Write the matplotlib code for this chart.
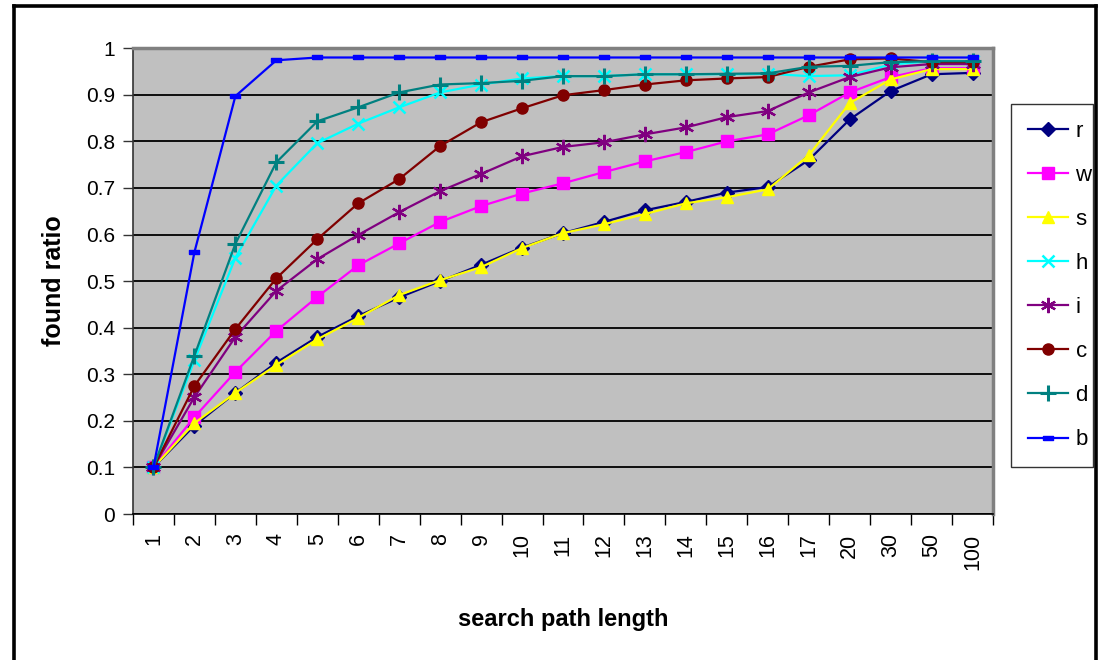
import matplotlib
matplotlib.use("Agg")
import matplotlib.pyplot as plt
from matplotlib.lines import Line2D
import numpy as np

plt.rcParams["font.family"] = ["Liberation Sans", "DejaVu Sans"]

categories = ["1", "2", "3", "4", "5", "6", "7", "8", "9", "10", "11", "12",
              "13", "14", "15", "16", "17", "20", "30", "50", "100"]

r = [0.10, 0.19, 0.26, 0.325, 0.38, 0.425, 0.465, 0.50, 0.535, 0.572, 0.603,
     0.627, 0.652, 0.67, 0.69, 0.702, 0.76, 0.847, 0.908, 0.944, 0.947]
w = [0.10, 0.208, 0.305, 0.393, 0.466, 0.534, 0.581, 0.627, 0.661, 0.688, 0.71,
     0.734, 0.757, 0.777, 0.80, 0.815, 0.856, 0.905, 0.938, 0.957, 0.957]
s = [0.10, 0.195, 0.26, 0.32, 0.375, 0.421, 0.47, 0.502, 0.53, 0.571, 0.603,
     0.622, 0.644, 0.667, 0.68, 0.697, 0.77, 0.882, 0.933, 0.955, 0.955]
h = [0.10, 0.33, 0.55, 0.705, 0.796, 0.838, 0.873, 0.905, 0.922, 0.935, 0.94,
     0.94, 0.944, 0.944, 0.944, 0.945, 0.94, 0.942, 0.965, 0.972, 0.972]
i = [0.10, 0.251, 0.38, 0.479, 0.547, 0.599, 0.648, 0.693, 0.73, 0.768, 0.788,
     0.798, 0.815, 0.83, 0.852, 0.865, 0.905, 0.938, 0.959, 0.966, 0.966]
c = [0.10, 0.275, 0.397, 0.506, 0.59, 0.667, 0.719, 0.79, 0.841, 0.871, 0.899,
     0.91, 0.922, 0.931, 0.935, 0.938, 0.96, 0.976, 0.978, 0.97, 0.97]
d = [0.10, 0.34, 0.58, 0.755, 0.843, 0.873, 0.905, 0.922, 0.925, 0.93, 0.94,
     0.94, 0.944, 0.944, 0.945, 0.946, 0.96, 0.962, 0.97, 0.972, 0.972]
b = [0.10, 0.562, 0.897, 0.974, 0.98, 0.98, 0.98, 0.98, 0.98, 0.98, 0.98,
     0.98, 0.98, 0.98, 0.98, 0.98, 0.98, 0.98, 0.98, 0.98, 0.98]

yticks = [0, 0.1, 0.2, 0.3, 0.4, 0.5, 0.6, 0.7, 0.8, 0.9, 1]
ytick_labels = ["0", "0.1", "0.2", "0.3", "0.4", "0.5", "0.6", "0.7", "0.8", "0.9", "1"]

dash = [(-1.6, -0.6), (1.6, -0.6), (1.6, 0.6), (-1.6, 0.6), (-1.6, -0.6)]
asterisk = (6, 2, 0)

series = [
    ("r", r, "#000080", "D", 7, 1.0),
    ("w", w, "#FF00FF", "s", 8, 1.0),
    ("s", s, "#FFFF00", "^", 9, 1.0),
    ("h", h, "#00FFFF", "x", 9, 1.8),
    ("i", i, "#800080", asterisk, 11, 1.6),
    ("c", c, "#800000", "o", 8, 1.0),
    ("d", d, "#008080", "+", 12, 2.2),
    ("b", b, "#0000FF", dash, 7, 1.0),
]

fig = plt.figure(figsize=(10.99, 6.60), dpi=100)
ax = fig.add_axes([0.121, 0.2212, 0.7826, 0.7058])
ax.set_facecolor("#C0C0C0")

x = np.arange(len(categories))
for name, vals, color, marker, ms, mew in series:
    ax.plot(x, vals, color=color, lw=1.6, marker=marker, markersize=ms,
            markeredgewidth=mew, markerfacecolor=color, markeredgecolor=color,
            label=name, zorder=3)

ax.set_xlim(-0.5, len(categories) - 0.5)
ax.set_ylim(0, 1)

ax.set_yticks(yticks)
ax.set_yticklabels(ytick_labels, fontsize=15)
ax.yaxis.grid(True, color="black", lw=1.3)
ax.set_axisbelow(True)

ax.set_xticks(x)
ax.set_xticklabels(categories, rotation=90, fontsize=15.5)
ax.set_xticks(np.arange(len(categories) + 1) - 0.5, minor=True)
ax.tick_params(axis="x", which="major", length=0, pad=14)
ax.tick_params(axis="x", which="minor", length=8, width=1, color="black")
ax.tick_params(axis="y", length=7, width=1, color="#333333", pad=6)

for side in ["top", "right"]:
    ax.spines[side].set_color("#808080")
    ax.spines[side].set_linewidth(2.5)
ax.spines["left"].set_color("#333333")
ax.spines["left"].set_linewidth(1.2)
ax.spines["bottom"].set_color("black")
ax.spines["bottom"].set_linewidth(1.2)

ax.set_ylabel("found ratio", fontsize=18, fontweight="bold", labelpad=14)
ax.set_xlabel("search path length", fontsize=17, fontweight="bold", labelpad=28)

leg = fig.legend(loc="upper left", bbox_to_anchor=(0.92, 0.3076, 0.0746, 0.535),
                 mode="expand", fontsize=16, frameon=True, fancybox=False,
                 handlelength=1.8, handletextpad=0.35, labelspacing=1.04,
                 borderpad=0.75, borderaxespad=0)
leg.get_frame().set_edgecolor("black")
leg.get_frame().set_linewidth(1.0)

# outer black frame around the whole chart (bottom edge is cut off)
lw = 2.6
fig.add_artist(Line2D([0.0127, 0.0127], [-0.1, 0.9915], color="black", lw=lw))
fig.add_artist(Line2D([0.0127, 0.9975], [0.9915, 0.9915], color="black", lw=lw))
fig.add_artist(Line2D([0.9975, 0.9975], [-0.1, 0.9915], color="black", lw=lw))

fig.savefig("out.png", dpi=100)
